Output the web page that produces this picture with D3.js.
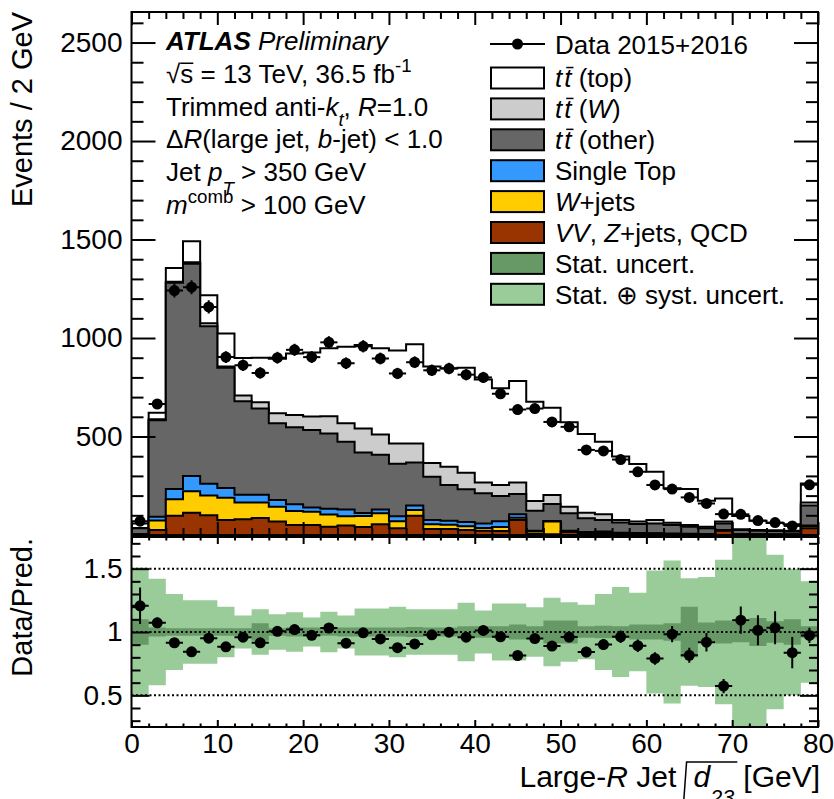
<!DOCTYPE html>
<html>
<head>
<meta charset="utf-8">
<script src="https://cdn.jsdelivr.net/npm/d3@7"></script>
<style>
  body { margin: 0; background: #fff; }
  svg { display: block; }
  text { font-family: "Liberation Sans", Arial, Helvetica, sans-serif; fill: #000; white-space: pre; }
</style>
</head>
<body>
<svg id="chart" width="834" height="799"></svg>
<script>
// Large-R jet sqrt(d23), 40 bins of 2 GeV (last bin includes overflow)
const nBins = 40;
const binWidth = 2;
const xTickLabels = [0, 10, 20, 30, 40, 50, 60, 70, 80];
const yTickLabels = [500, 1000, 1500, 2000, 2500];
const ratioTickLabels = [0.5, 1, 1.5];

const dataCounts = [70, 665, 1241, 1258, 1158, 903, 862, 823, 900, 940,
                    903, 978, 872, 958, 896, 820, 877, 836, 845, 814,
                    800, 717, 637, 642, 574, 549, 432, 427, 383, 321,
                    254, 233, 191, 160, 106, 105, 73, 63, 46, 255];

// Stacked backgrounds, bottom to top
const vvZjetsQcd = [2, 25, 98, 113, 100, 76, 80, 86, 68, 51,
                    51, 42, 48, 40, 55, 34, 98, 31, 30, 25,
                    22, 20, 76, 8, 4, 15, 8, 10, 6, 4,
                    5, 3, 3, 2, 22, 2, 2, 2, 2, 34];
const wJets = [1, 48, 83, 109, 100, 113, 85, 79, 76, 71,
               67, 62, 47, 57, 55, 36, 29, 24, 22, 20,
               14, 20, 12, 12, 64, 4, 4, 4, 3, 2,
               2, 2, 1, 1, 2, 1, 1, 1, 1, 10];
const singleTop = [1, 20, 52, 77, 60, 49, 39, 39, 34, 34,
                   22, 29, 35, 15, 20, 25, 23, 21, 20, 21,
                   22, 30, 17, 2, 3, 3, 3, 4, 3, 4,
                   2, 2, 2, 2, 2, 1, 1, 0, 0, 4];
const ttOther = [30, 490, 1047, 1078, 800, 611, 475, 438, 389, 391,
                 393, 382, 344, 307, 278, 267, 218, 220, 182, 166,
                 154, 128, 103, 101, 86, 88, 70, 58, 52, 46,
                 50, 44, 36, 29, 33, 21, 18, 17, 15, 102];
const ttW = [1, 5, 5, 8, 15, 6, 29, 32, 51, 62,
             68, 88, 93, 122, 102, 103, 97, 70, 92, 84,
             54, 56, 58, 50, 46, 34, 28, 29, 12, 12,
             17, 11, 9, 8, 9, 4, 4, 4, 3, 15];
const ttTop = [23, 32, 71, 106, 142, 168, 191, 226, 277, 313,
               326, 345, 389, 423, 438, 471, 503, 489, 500, 533,
               524, 491, 516, 504, 443, 428, 400, 369, 322, 292,
               245, 175, 183, 132, 117, 67, 46, 37, 34, 97];

// Relative uncertainties on the prediction (half widths)
const statUnc = [0.10, 0.035, 0.03, 0.03, 0.03, 0.03, 0.03, 0.07, 0.03, 0.035,
                 0.035, 0.03, 0.035, 0.035, 0.035, 0.035, 0.04, 0.035, 0.035, 0.045,
                 0.045, 0.045, 0.06, 0.045, 0.09, 0.09, 0.045, 0.05, 0.045, 0.06,
                 0.06, 0.07, 0.20, 0.075, 0.09, 0.08, 0.11, 0.085, 0.10, 0.045];
const totalUnc = [0.51, 0.42, 0.30, 0.25, 0.25, 0.20, 0.13, 0.18, 0.14, 0.155,
                  0.115, 0.16, 0.13, 0.185, 0.185, 0.20, 0.18, 0.18, 0.18, 0.23,
                  0.17, 0.225, 0.225, 0.195, 0.27, 0.235, 0.215, 0.30, 0.355, 0.31,
                  0.485, 0.565, 0.425, 0.435, 0.57, 0.80, 0.80, 0.61, 0.50, 0.40];

const colors = {
  vv: "#993300", wj: "#ffcc00", st: "#3399ff",
  oth: "#666666", ttw: "#cccccc", tttop: "#ffffff",
  stat: "#669966", syst: "#99cc99"
};

// ---------- layout ----------
const L = 131.5, R = 818;
const mainTop = 12, mainBot = 535;
const ratTop = 537, ratBot = 727;

const x = d3.scaleLinear().domain([0, 80]).range([L, R]);
const y = d3.scaleLinear().domain([0, 2655]).range([mainBot, mainTop]);
const yr = d3.scaleLinear().domain([0.25, 1.75]).range([ratBot, ratTop]);

const svg = d3.select("#chart");
svg.append("rect").attr("width", 834).attr("height", 799).attr("fill", "#fff");

const defs = svg.append("defs");
defs.append("clipPath").attr("id", "clipMain").append("rect")
  .attr("x", L).attr("y", mainTop).attr("width", R - L).attr("height", mainBot - mainTop);
defs.append("clipPath").attr("id", "clipRatio").append("rect")
  .attr("x", L).attr("y", ratTop).attr("width", R - L).attr("height", ratBot - ratTop);

// ---------- stacked histogram ----------
const rows = d3.range(nBins).map(i => ({
  vv: vvZjetsQcd[i], wj: wJets[i], st: singleTop[i],
  oth: ttOther[i], ttw: ttW[i], tttop: ttTop[i]
}));
const keys = ["vv", "wj", "st", "oth", "ttw", "tttop"];
const stacked = d3.stack().keys(keys)(rows);

const stepPts = arr => {
  const pts = arr.map((v, i) => ({ lo: i * binWidth, v }));
  pts.push({ lo: nBins * binWidth, v: arr[arr.length - 1] });
  return pts;
};

const histArea = d3.area()
  .curve(d3.curveStepAfter)
  .x(d => x(d.lo))
  .y0(y(0))
  .y1(d => y(d.v));

const gMain = svg.append("g").attr("clip-path", "url(#clipMain)");
stacked.slice().reverse().forEach(s => {
  const tops = s.map(d => d[1]);
  gMain.append("path")
    .attr("d", histArea(stepPts(tops)))
    .attr("fill", colors[s.key])
    .attr("stroke", "#000")
    .attr("stroke-width", 2)
    .attr("stroke-linejoin", "miter");
});

// data points
const totals = rows.map(r => keys.reduce((a, k) => a + r[k], 0));
const dataPts = dataCounts.map((n, i) => ({
  lo: i * binWidth, hi: (i + 1) * binWidth, c: (i + 0.5) * binWidth, n, err: Math.sqrt(n)
}));
const gData = gMain.append("g");
dataPts.forEach(d => {
  gData.append("line").attr("x1", x(d.lo)).attr("x2", x(d.hi))
    .attr("y1", y(d.n)).attr("y2", y(d.n)).attr("stroke", "#000").attr("stroke-width", 2);
  gData.append("line").attr("x1", x(d.c)).attr("x2", x(d.c))
    .attr("y1", y(d.n - d.err)).attr("y2", y(d.n + d.err)).attr("stroke", "#000").attr("stroke-width", 2);
  gData.append("circle").attr("cx", x(d.c)).attr("cy", y(d.n)).attr("r", 5.5).attr("fill", "#000");
});

// ---------- ratio panel ----------
const gRatio = svg.append("g").attr("clip-path", "url(#clipRatio)");
const bandArea = d3.area()
  .curve(d3.curveStepAfter)
  .x(d => x(d.lo))
  .y0(d => yr(1 - d.v))
  .y1(d => yr(1 + d.v));
gRatio.append("path").attr("d", bandArea(stepPts(totalUnc))).attr("fill", colors.syst);
gRatio.append("path").attr("d", bandArea(stepPts(statUnc))).attr("fill", colors.stat);

[0.5, 1, 1.5].forEach(v => {
  gRatio.append("line").attr("x1", L).attr("x2", R).attr("y1", yr(v)).attr("y2", yr(v))
    .attr("stroke", "#000").attr("stroke-width", 2).attr("stroke-dasharray", "2,2.5");
});

dataPts.forEach((d, i) => {
  const r = d.n / totals[i];
  const e = d.err / totals[i];
  gRatio.append("line").attr("x1", x(d.lo)).attr("x2", x(d.hi))
    .attr("y1", yr(r)).attr("y2", yr(r)).attr("stroke", "#000").attr("stroke-width", 2);
  gRatio.append("line").attr("x1", x(d.c)).attr("x2", x(d.c))
    .attr("y1", yr(r - e)).attr("y2", yr(r + e)).attr("stroke", "#000").attr("stroke-width", 2);
  gRatio.append("circle").attr("cx", x(d.c)).attr("cy", yr(r)).attr("r", 5.5).attr("fill", "#000");
});

// ---------- axes ----------
const majorX = d3.range(0, 81, 10);
const minorX = d3.range(0, 81, 2).filter(v => v % 10 !== 0);
const majorY = d3.range(0, 2501, 500);
const minorY = d3.range(100, 2655, 100).filter(v => v % 500 !== 0);
const majorR = [0.5, 1, 1.5];
const minorR = d3.range(3, 18).map(v => v / 10).filter(v => ![0.5, 1, 1.5].includes(v));

function ticks(axisFn, scale, values, size, tx, ty) {
  const g = svg.append("g").attr("transform", `translate(${tx},${ty})`)
    .call(axisFn(scale).tickValues(values).tickSize(size).tickFormat(""));
  g.select(".domain").remove();
  g.selectAll(".tick line").attr("stroke", "#000").attr("stroke-width", 2);
  return g;
}

// main panel ticks (pointing inward)
ticks(d3.axisRight, y, majorY, 24, L, 0);
ticks(d3.axisRight, y, minorY, 12, L, 0);
ticks(d3.axisLeft, y, majorY, 24, R, 0);
ticks(d3.axisLeft, y, minorY, 12, R, 0);
ticks(d3.axisBottom, x, majorX, 13, 0, mainTop);
ticks(d3.axisBottom, x, minorX, 7, 0, mainTop);
ticks(d3.axisTop, x, majorX, 13, 0, mainBot);
ticks(d3.axisTop, x, minorX, 7, 0, mainBot);

// ratio panel ticks
ticks(d3.axisRight, yr, majorR, 18, L, 0);
ticks(d3.axisRight, yr, minorR, 9, L, 0);
ticks(d3.axisLeft, yr, majorR, 18, R, 0);
ticks(d3.axisLeft, yr, minorR, 9, R, 0);
ticks(d3.axisBottom, x, majorX, 7, 0, ratTop);
ticks(d3.axisBottom, x, minorX, 3.5, 0, ratTop);
ticks(d3.axisTop, x, majorX, 7, 0, ratBot);
ticks(d3.axisTop, x, minorX, 3.5, 0, ratBot);

// tick labels
function labels(axisFn, scale, values, fmt, pad, tx, ty) {
  const g = svg.append("g").attr("transform", `translate(${tx},${ty})`)
    .call(axisFn(scale).tickValues(values).tickSize(0).tickPadding(pad).tickFormat(fmt));
  g.select(".domain").remove();
  g.attr("font-family", null).attr("font-size", null);
  g.selectAll("text").attr("font-size", 28).attr("fill", "#000");
  return g;
}
labels(d3.axisLeft, y, yTickLabels, d3.format("d"), 9, L, 0);
labels(d3.axisLeft, yr, ratioTickLabels, d => String(d), 9, L, 0);
labels(d3.axisBottom, x, xTickLabels, d3.format("d"), 6, 0, ratBot);

// frames
svg.append("rect").attr("x", L).attr("y", mainTop).attr("width", R - L).attr("height", mainBot - mainTop)
  .attr("fill", "none").attr("stroke", "#000").attr("stroke-width", 2);
svg.append("rect").attr("x", L).attr("y", ratTop).attr("width", R - L).attr("height", ratBot - ratTop)
  .attr("fill", "none").attr("stroke", "#000").attr("stroke-width", 2);

// ---------- rich text helper (italics, sub/superscripts, overbars) ----------
function rich(parent, tx, ty, segs, size) {
  const t = parent.append("text").attr("x", tx).attr("y", ty).attr("font-size", size);
  let shift = 0, idx = 0;
  const bars = [];
  segs.forEach(s => {
    const sp = t.append("tspan").text(s.t);
    let target = 0;
    if (s.sub) target = size * (s.subOff || 0.42);
    if (s.sup) target = -size * 0.42;
    if (target !== shift) { sp.attr("dy", target - shift); shift = target; }
    if (s.sub || s.sup) sp.attr("font-size", size * 0.72);
    if (s.it) sp.attr("font-style", "italic");
    if (s.b) sp.attr("font-weight", "bold");
    if (s.dx) sp.attr("dx", s.dx);
    if (s.ol) bars.push({ from: idx, to: idx + s.t.length - 1, it: !!s.it });
    idx += s.t.length;
  });
  const node = t.node();
  bars.forEach(b => {
    const a = node.getExtentOfChar(b.from);
    const z = node.getExtentOfChar(b.to);
    const off = b.it ? 2 : 0;
    const yb = ty - size * 0.76;
    parent.append("line")
      .attr("x1", a.x + off).attr("x2", z.x + z.width + off)
      .attr("y1", yb).attr("y2", yb)
      .attr("stroke", "#000").attr("stroke-width", 1.5);
  });
  return t;
}

// ---------- annotation ----------
const annot = svg.append("g");
const annFs = 26;
rich(annot, 166, 50, [{ t: "ATLAS", b: true, it: true }, { t: " Preliminary", it: true }], annFs);
rich(annot, 166, 83, [{ t: "√" }, { t: "s", ol: true }, { t: " = 13 TeV, 36.5 fb" }, { t: "-1", sup: true }], annFs);
rich(annot, 166, 115.5, [{ t: "Trimmed anti-" }, { t: "k", it: true }, { t: "t", it: true, sub: true },
  { t: ", " }, { t: "R", it: true }, { t: "=1.0" }], annFs);
rich(annot, 166, 148, [{ t: "Δ" }, { t: "R", it: true }, { t: "(large jet, " }, { t: "b", it: true },
  { t: "-jet) < 1.0" }], annFs);
rich(annot, 166, 181, [{ t: "Jet " }, { t: "p", it: true }, { t: "T", it: true, sub: true, subOff: 0.55 },
  { t: " > 350 GeV" }], annFs);
rich(annot, 166, 213.5, [{ t: "m", it: true }, { t: "comb", sup: true }, { t: " > 100 GeV" }], annFs);

// ---------- legend ----------
const leg = svg.append("g");
const legFs = 26;
const boxX = 491, boxW = 53, boxH = 21, textX = 555;
const tt = [{ t: "t", it: true }, { t: "t", it: true, ol: true, dx: 2 }];
const legendEntries = [
  { fill: colors.tttop, segs: [...tt, { t: " (top)" }] },
  { fill: colors.ttw, segs: [...tt, { t: " (" }, { t: "W", it: true }, { t: ")" }] },
  { fill: colors.oth, segs: [...tt, { t: " (other)" }] },
  { fill: colors.st, segs: [{ t: "Single Top" }] },
  { fill: colors.wj, segs: [{ t: "W", it: true }, { t: "+jets" }] },
  { fill: colors.vv, segs: [{ t: "VV", it: true }, { t: ", " }, { t: "Z", it: true }, { t: "+jets, QCD" }] },
  { fill: colors.stat, segs: [{ t: "Stat. uncert." }] },
  { fill: colors.syst, segs: [{ t: "Stat. ⊕ syst. uncert." }] }
];
// data entry
leg.append("line").attr("x1", boxX - 1).attr("x2", boxX + boxW + 1).attr("y1", 44).attr("y2", 44)
  .attr("stroke", "#000").attr("stroke-width", 2);
leg.append("circle").attr("cx", boxX + boxW / 2).attr("cy", 44).attr("r", 5.5).attr("fill", "#000");
rich(leg, textX, 53.5, [{ t: "Data 2015+2016" }], legFs);
legendEntries.forEach((e, k) => {
  const cy = 78 + k * 30.9;
  leg.append("rect").attr("x", boxX).attr("y", cy - boxH / 2).attr("width", boxW).attr("height", boxH)
    .attr("fill", e.fill).attr("stroke", "#000").attr("stroke-width", 2);
  rich(leg, textX, cy + 9.3, e.segs, legFs);
});

// ---------- axis titles ----------
const titleFs = 29;
svg.append("text").attr("transform", `translate(32,${mainTop}) rotate(-90)`)
  .attr("text-anchor", "end").attr("font-size", titleFs).text("Events / 2 GeV");
svg.append("text").attr("transform", `translate(32,${ratTop + 1}) rotate(-90)`)
  .attr("text-anchor", "end").attr("font-size", titleFs).text("Data/Pred.");

// x title: "Large-R Jet sqrt(d_23) [GeV]" right-aligned to the frame
const xt = svg.append("g");
const p1 = rich(xt, 0, 0, [{ t: "Large-" }, { t: "R", it: true }, { t: " Jet " }], 30);
const w1 = p1.node().getComputedTextLength();
const p2 = rich(xt, w1 + 9, 0, [{ t: "d", it: true }, { t: "23", it: true, sub: true, subOff: 0.6 }], 30);
const w2 = p2.node().getComputedTextLength();
const barEnd = w1 + 9 + w2 + 3;
xt.append("path")
  .attr("d", `M${w1 - 1},${16} L${w1 + 2},${-25} L${barEnd},${-25}`)
  .attr("fill", "none").attr("stroke", "#000").attr("stroke-width", 1.5);
const p3 = rich(xt, barEnd + 6, 0, [{ t: "[GeV]" }], 30);
const w3 = p3.node().getComputedTextLength();
const totalW = barEnd + 6 + w3;
xt.attr("transform", `translate(${R + 2 - totalW},787)`);
</script>
</body>
</html>
